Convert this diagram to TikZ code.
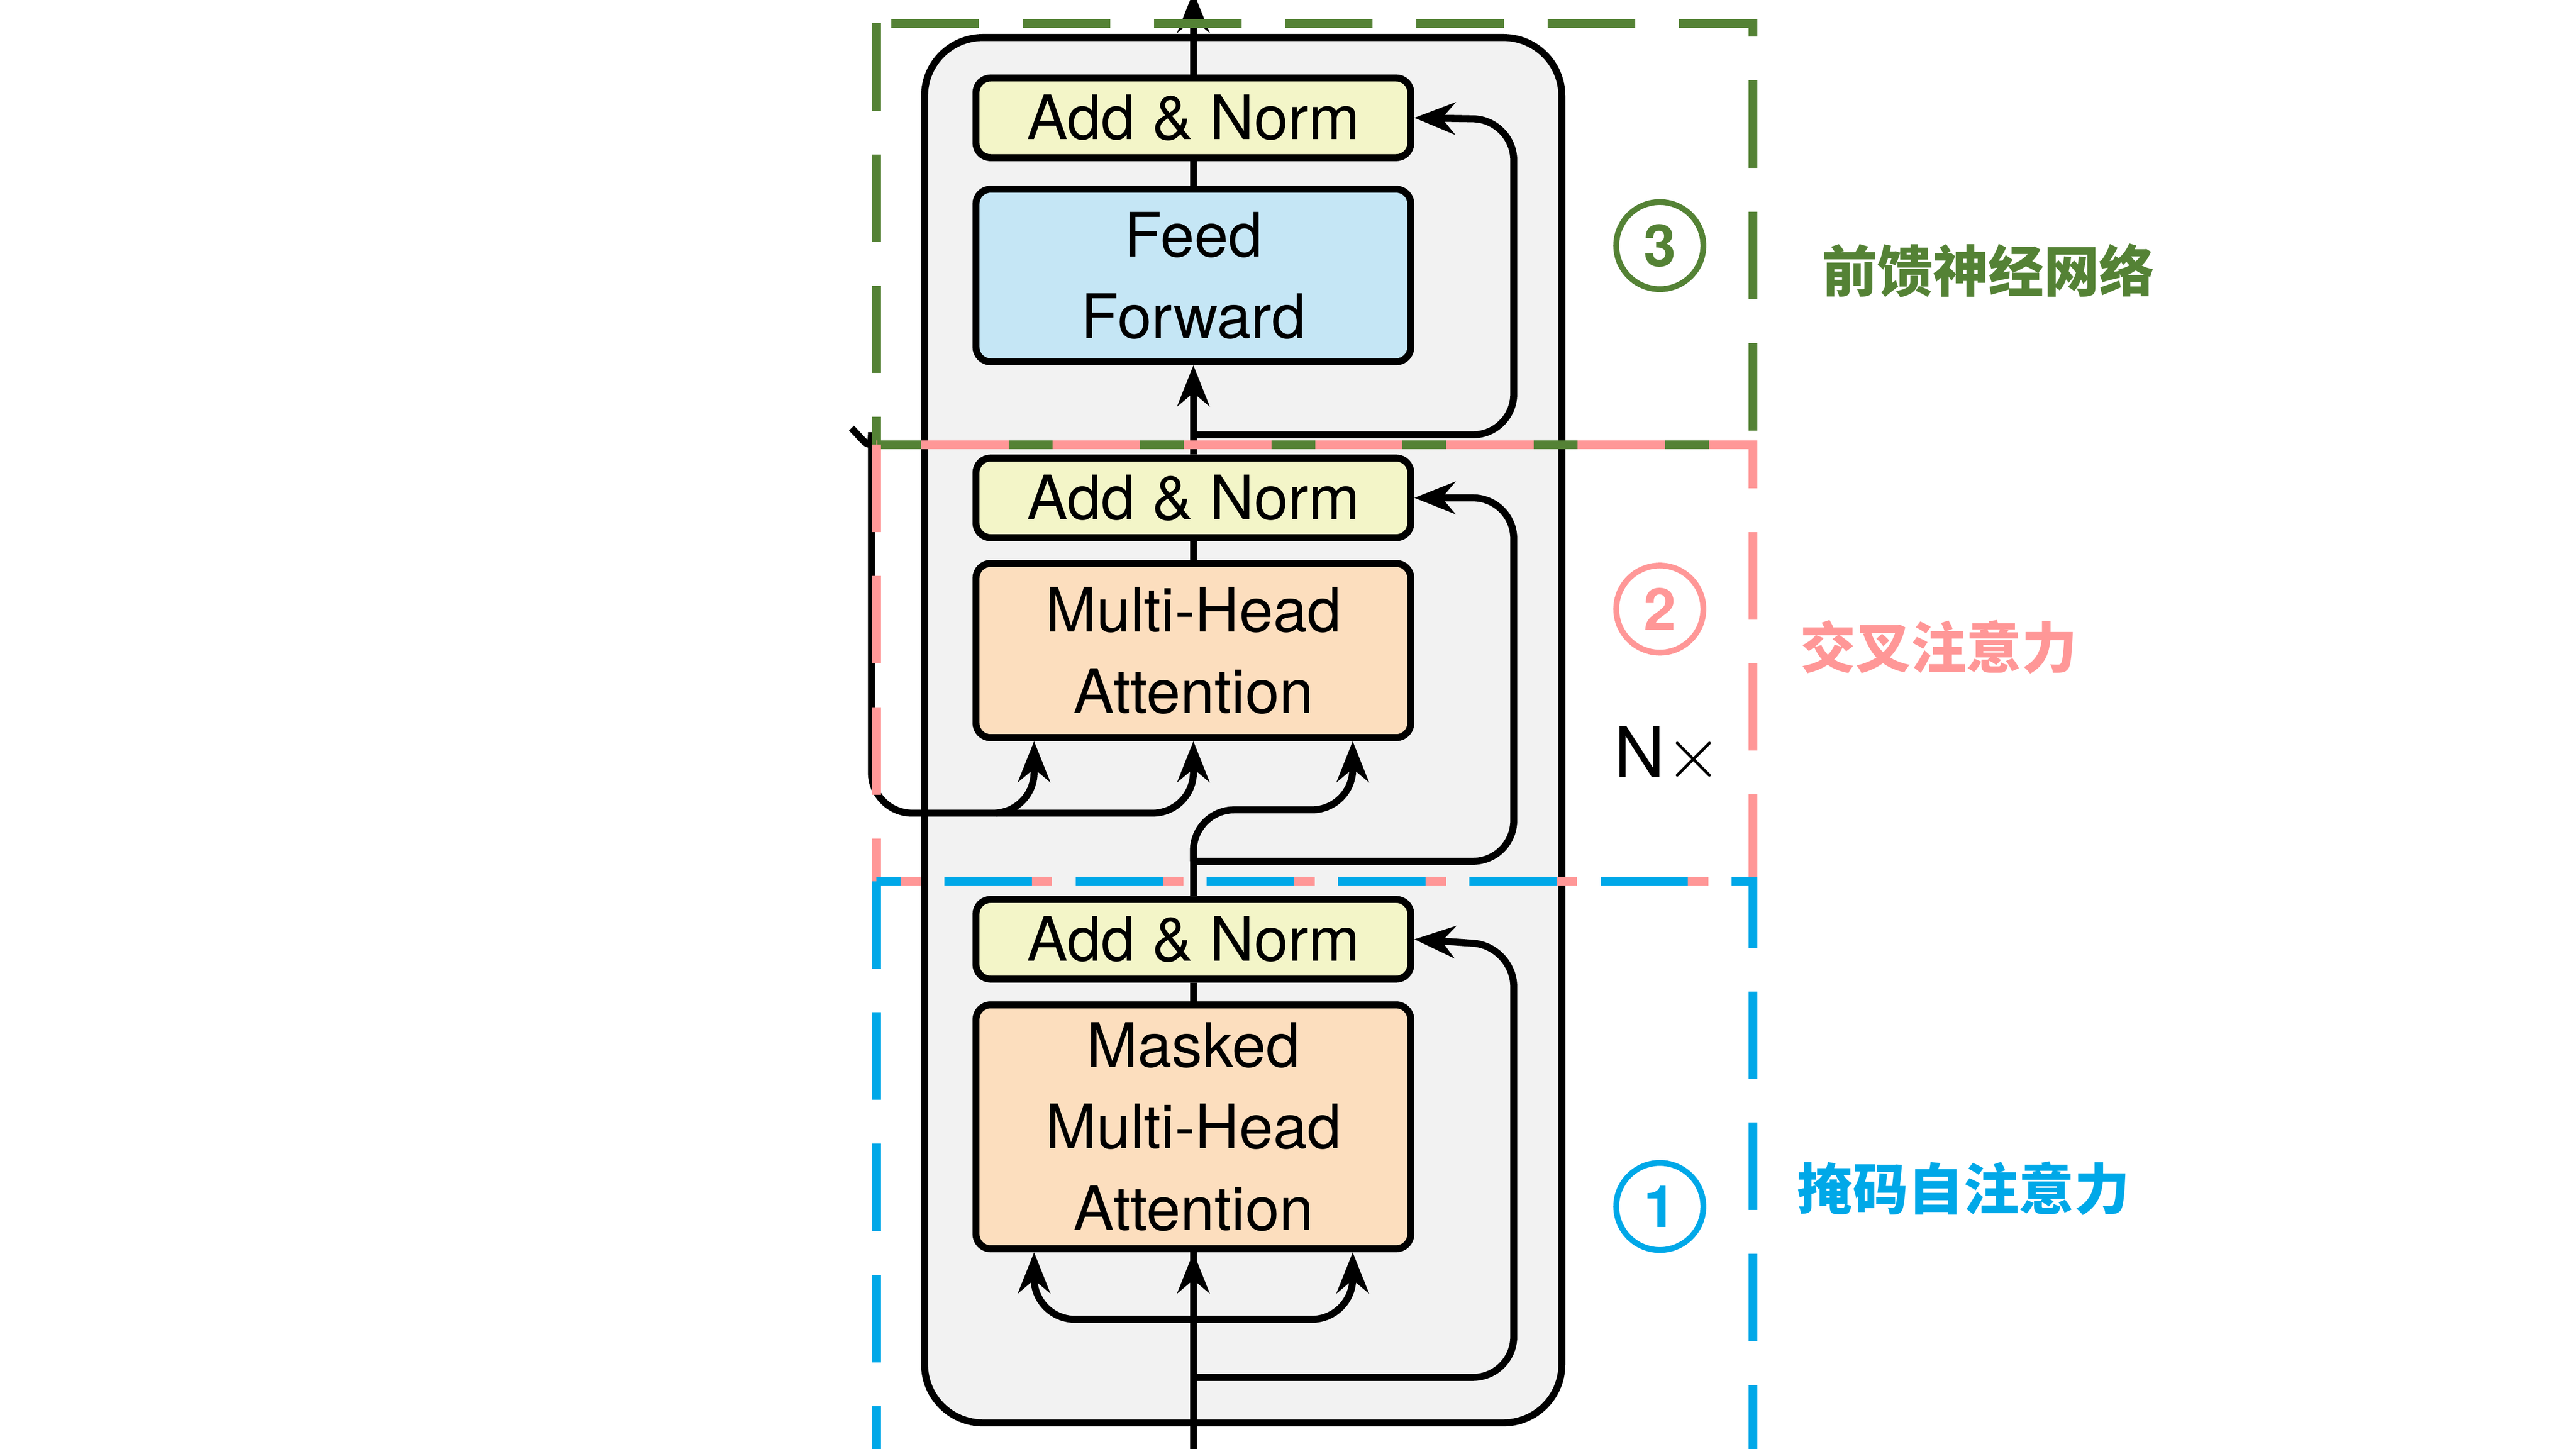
\documentclass[tikz,border=0pt]{standalone}
\usepackage{fontspec}
\setmainfont{TeX Gyre Heros}
\newfontfamily\cjk{Noto Sans CJK SC}
\usetikzlibrary{arrows.meta}
\definecolor{gfill}{HTML}{F2F2F2}
\definecolor{anfill}{HTML}{F3F5C8}
\definecolor{fffill}{HTML}{C5E6F5}
\definecolor{mhfill}{HTML}{FCDEBE}
\definecolor{grn}{HTML}{548235}
\definecolor{pnk}{HTML}{FF9797}
\definecolor{blu}{HTML}{00A8E8}
\begin{document}
\begin{tikzpicture}[x=0.02cm,y=-0.02cm,
 blk/.style={draw=black,line width=2.4pt,rounded corners=5pt,minimum width=5.24cm,inner sep=0pt,align=center,font=\fontsize{21}{28}\selectfont},
 an/.style={blk,fill=anfill,minimum height=0.96cm},
 ln/.style={line width=2.4pt,rounded corners=14pt},
 ar/.style={ln,-{Stealth[length=14pt,width=11pt]}},
 dsh/.style={line width=3pt,dash pattern=on 30pt off 15pt},
 cnum/.style={circle,draw,line width=2pt,inner sep=1pt,minimum size=1.05cm,font=\fontsize{20}{20}\selectfont\bfseries},
 zh/.style={font=\cjk\bfseries\fontsize{19}{19}\selectfont}]
\useasboundingbox (0,0) rectangle (1552,873);
\node[draw=black,line width=2.4pt,fill=gfill,rounded corners=20pt,minimum width=7.68cm,minimum height=16.7cm] (outer) at (749,440) {};
\node[an] (an1) at (719,71) {Add \& Norm};
\node[blk,fill=fffill,minimum height=2.08cm] (ff) at (719,166) {Feed\\Forward};
\node[an] (an2) at (719,300) {Add \& Norm};
\node[blk,fill=mhfill,minimum height=2.1cm] (mha) at (719,392) {Multi-Head\\Attention};
\node[an] (an3) at (719,566) {Add \& Norm};
\node[blk,fill=mhfill,minimum height=2.94cm] (mmha) at (719,679) {Masked\\Multi-Head\\Attention};
\coordinate (in) at (719,880);
\coordinate (out) at (719,-5);
\coordinate (enc) at (513,258);
\coordinate (mhaL) at ([xshift=-1.92cm]mha.south);
\coordinate (mhaR) at ([xshift=1.92cm]mha.south);
\coordinate (mmL) at ([xshift=-1.92cm]mmha.south);
\coordinate (mmR) at ([xshift=1.92cm]mmha.south);
% main path
\draw[ln] (in) -- (mmha.south);
\draw[ln] (mmha.north) -- (an3.south);
\draw[ln] (an3.north) -- (719,519);
\draw[ar] (719,519) |- (815,488) -- (mhaR);
\draw[ln] (mha.north) -- (an2.south);
\draw[ar] (an2.north) -- (ff.south);
\draw[ln] (ff.north) -- (an1.south);
\draw[ar] (an1.north) -- (out);
% bottom branches
\draw[ar] (719,800) -- (mmha.south);
\draw[ar] (719,795) -| (mmL);
\draw[ar] (719,795) -| (mmR);
% residuals
\draw[ar] (719,830) -| (912,570) -- (an3.east);
\draw[ar] (719,519) -| (912,300) -- (an2.east);
\draw[ar] (719,262) -| (912,72) -- (an1.east);
% encoder input
\draw[ar] (enc) to[out=-45,in=90] (525,285) |- (623,490) -- (mhaL);
\draw[ar] (600,490) -| (mha.south);
\node[font=\fontsize{24}{24}\selectfont] (nx) at (1005,455) {N$\times$};
% dashed regions
\draw[dsh,grn] (528,14) rectangle (1056,268);
\draw[dsh,pnk] (528,268) rectangle (1056,531);
\draw[dsh,blu] (528,531) rectangle (1056,880);
\node[cnum,grn] (c3) at (1000,148) {3};
\node[cnum,pnk] (c2) at (1000,367) {2};
\node[cnum,blu] (c1) at (1000,727) {1};
\node[zh,grn] (l3) at (1198,163) {前馈神经网络};
\node[zh,pnk] (l2) at (1168,390) {交叉注意力};
\node[zh,blu] (l1) at (1183,716) {掩码自注意力};
\end{tikzpicture}
\end{document}
